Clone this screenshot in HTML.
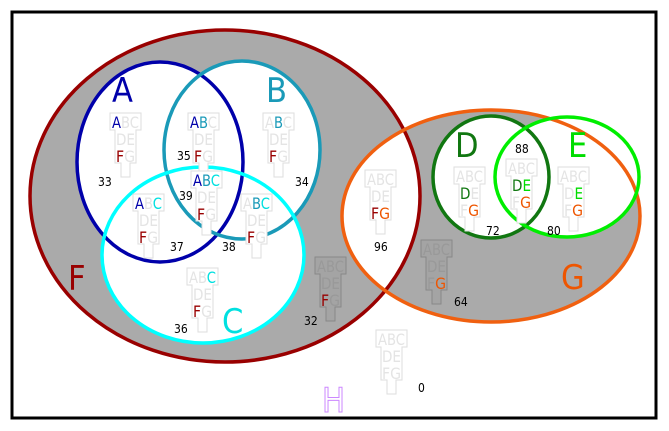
<!DOCTYPE html>
<html><head><meta charset="utf-8"><style>
html,body{margin:0;padding:0;background:#fff}
svg{display:block}
text{font-family:"DejaVu Sans Condensed","Liberation Sans",sans-serif}
.g text{font-size:16px}
use{fill:#fff;stroke:#ddd;stroke-width:1}
use.dk{fill:#a4a4a4;stroke:#888}
.n{font-size:12px;fill:#000}
.x{fill:#e4e4e4}
.a{fill:#0000aa}.b{fill:#1a9ab8}.c{fill:#00e0e0}.d{fill:#117711}.e{fill:#00dd00}.f{fill:#990000}.gg{fill:#ee5500}
</style></head><body>
<svg width="669" height="431" viewBox="0 0 669 431" xmlns="http://www.w3.org/2000/svg">
<defs>
<path id="o" d="M0,0H31V17H26V50H20V64H11V50H5V17H0Z"/>
<clipPath id="cf"><ellipse cx="225" cy="196" rx="195" ry="166"/></clipPath>
</defs>
<rect x="12" y="12" width="644" height="406" fill="#fff" stroke="#000" stroke-width="3"/>
<ellipse cx="225" cy="196" rx="195" ry="166" fill="#aaa"/>
<ellipse cx="491" cy="216" rx="149" ry="106" fill="#aaa"/>
<ellipse cx="491" cy="216" rx="149" ry="106" fill="#fff" clip-path="url(#cf)"/>
<ellipse cx="160" cy="162" rx="83" ry="100" fill="#fff"/>
<ellipse cx="242" cy="150" rx="78" ry="89" fill="#fff"/>
<ellipse cx="203" cy="255" rx="101" ry="88" fill="#fff"/>
<ellipse cx="491" cy="177" rx="58" ry="61" fill="#fff"/>
<ellipse cx="567" cy="177" rx="72" ry="60" fill="#fff"/>
<ellipse cx="225" cy="196" rx="195" ry="166" fill="none" stroke="#990000" stroke-width="3.5"/>
<ellipse cx="491" cy="216" rx="149" ry="106" fill="none" stroke="#f06010" stroke-width="3.5"/>
<ellipse cx="160" cy="162" rx="83" ry="100" fill="none" stroke="#0000aa" stroke-width="3.5"/>
<ellipse cx="242" cy="150" rx="78" ry="89" fill="none" stroke="#1a9ab8" stroke-width="3.5"/>
<ellipse cx="203" cy="255" rx="101" ry="88" fill="none" stroke="#00ffff" stroke-width="3.5"/>
<ellipse cx="491" cy="177" rx="58" ry="61" fill="none" stroke="#117711" stroke-width="3.5"/>
<ellipse cx="567" cy="177" rx="72" ry="60" fill="none" stroke="#00ee00" stroke-width="3.5"/>

<g style="font-size:34px">
<text x="112" y="102" class="a">A</text>
<text x="266" y="102" class="b">B</text>
<text x="222" y="333" class="c">C</text>
<text x="68" y="290" class="f">F</text>
<text x="561" y="289" class="gg">G</text>
<text x="455" y="157" class="d">D</text>
<text x="568" y="157" class="e">E</text>
<text x="322" y="412" fill="#fff" stroke="#cc88ff" stroke-width="1">H</text>
</g>

<g class="g">
<g transform="translate(110,113)"><use href="#o"/><text x="2" y="15" textLength="27" lengthAdjust="spacingAndGlyphs"><tspan class="a">A</tspan><tspan class="x">BC</tspan></text><text x="6" y="32" class="x" textLength="19" lengthAdjust="spacingAndGlyphs">DE</text><text x="6" y="49" textLength="19" lengthAdjust="spacingAndGlyphs"><tspan class="f">F</tspan><tspan class="x">G</tspan></text></g>
<g transform="translate(188,113)"><use href="#o"/><text x="2" y="15" textLength="27" lengthAdjust="spacingAndGlyphs"><tspan class="a">A</tspan><tspan class="b">B</tspan><tspan class="x">C</tspan></text><text x="6" y="32" class="x" textLength="19" lengthAdjust="spacingAndGlyphs">DE</text><text x="6" y="49" textLength="19" lengthAdjust="spacingAndGlyphs"><tspan class="f">F</tspan><tspan class="x">G</tspan></text></g>
<g transform="translate(263,113)"><use href="#o"/><text x="2" y="15" textLength="27" lengthAdjust="spacingAndGlyphs"><tspan class="x">A</tspan><tspan class="b">B</tspan><tspan class="x">C</tspan></text><text x="6" y="32" class="x" textLength="19" lengthAdjust="spacingAndGlyphs">DE</text><text x="6" y="49" textLength="19" lengthAdjust="spacingAndGlyphs"><tspan class="f">F</tspan><tspan class="x">G</tspan></text></g>
<g transform="translate(191,171)"><use href="#o"/><text x="2" y="15" textLength="27" lengthAdjust="spacingAndGlyphs"><tspan class="a">A</tspan><tspan class="b">B</tspan><tspan class="c">C</tspan></text><text x="6" y="32" class="x" textLength="19" lengthAdjust="spacingAndGlyphs">DE</text><text x="6" y="49" textLength="19" lengthAdjust="spacingAndGlyphs"><tspan class="f">F</tspan><tspan class="x">G</tspan></text></g>
<g transform="translate(133,194)"><use href="#o"/><text x="2" y="15" textLength="27" lengthAdjust="spacingAndGlyphs"><tspan class="a">A</tspan><tspan class="x">B</tspan><tspan class="c">C</tspan></text><text x="6" y="32" class="x" textLength="19" lengthAdjust="spacingAndGlyphs">DE</text><text x="6" y="49" textLength="19" lengthAdjust="spacingAndGlyphs"><tspan class="f">F</tspan><tspan class="x">G</tspan></text></g>
<g transform="translate(241,194)"><use href="#o"/><text x="2" y="15" textLength="27" lengthAdjust="spacingAndGlyphs"><tspan class="x">A</tspan><tspan class="b">B</tspan><tspan class="c">C</tspan></text><text x="6" y="32" class="x" textLength="19" lengthAdjust="spacingAndGlyphs">DE</text><text x="6" y="49" textLength="19" lengthAdjust="spacingAndGlyphs"><tspan class="f">F</tspan><tspan class="x">G</tspan></text></g>
<g transform="translate(187,268)"><use href="#o"/><text x="2" y="15" textLength="27" lengthAdjust="spacingAndGlyphs"><tspan class="x">AB</tspan><tspan class="c">C</tspan></text><text x="6" y="32" class="x" textLength="19" lengthAdjust="spacingAndGlyphs">DE</text><text x="6" y="49" textLength="19" lengthAdjust="spacingAndGlyphs"><tspan class="f">F</tspan><tspan class="x">G</tspan></text></g>
<g transform="translate(315,257)"><use href="#o" class="dk"/><text x="2" y="15" fill="#999" textLength="27" lengthAdjust="spacingAndGlyphs">ABC</text><text x="6" y="32" fill="#999" textLength="19" lengthAdjust="spacingAndGlyphs">DE</text><text x="6" y="49" textLength="19" lengthAdjust="spacingAndGlyphs"><tspan class="f">F</tspan><tspan fill="#999">G</tspan></text></g>
<g transform="translate(365,170)"><use href="#o"/><text x="2" y="15" class="x" textLength="27" lengthAdjust="spacingAndGlyphs">ABC</text><text x="6" y="32" class="x" textLength="19" lengthAdjust="spacingAndGlyphs">DE</text><text x="6" y="49" textLength="19" lengthAdjust="spacingAndGlyphs"><tspan class="f">F</tspan><tspan class="gg">G</tspan></text></g>
<g transform="translate(421,240)"><use href="#o" class="dk"/><text x="2" y="15" fill="#999" textLength="27" lengthAdjust="spacingAndGlyphs">ABC</text><text x="6" y="32" fill="#999" textLength="19" lengthAdjust="spacingAndGlyphs">DE</text><text x="6" y="49" textLength="19" lengthAdjust="spacingAndGlyphs"><tspan fill="#999">F</tspan><tspan class="gg">G</tspan></text></g>
<g transform="translate(454,167)"><use href="#o"/><text x="2" y="15" class="x" textLength="27" lengthAdjust="spacingAndGlyphs">ABC</text><text x="6" y="32" textLength="19" lengthAdjust="spacingAndGlyphs"><tspan class="d">D</tspan><tspan class="x">E</tspan></text><text x="6" y="49" textLength="19" lengthAdjust="spacingAndGlyphs"><tspan class="x">F</tspan><tspan class="gg">G</tspan></text></g>
<g transform="translate(506,159)"><use href="#o"/><text x="2" y="15" class="x" textLength="27" lengthAdjust="spacingAndGlyphs">ABC</text><text x="6" y="32" textLength="19" lengthAdjust="spacingAndGlyphs"><tspan class="d">D</tspan><tspan class="e">E</tspan></text><text x="6" y="49" textLength="19" lengthAdjust="spacingAndGlyphs"><tspan class="x">F</tspan><tspan class="gg">G</tspan></text></g>
<g transform="translate(558,167)"><use href="#o"/><text x="2" y="15" class="x" textLength="27" lengthAdjust="spacingAndGlyphs">ABC</text><text x="6" y="32" textLength="19" lengthAdjust="spacingAndGlyphs"><tspan class="x">D</tspan><tspan class="e">E</tspan></text><text x="6" y="49" textLength="19" lengthAdjust="spacingAndGlyphs"><tspan class="x">F</tspan><tspan class="gg">G</tspan></text></g>
<g transform="translate(376,330)"><use href="#o"/><text x="2" y="15" class="x" textLength="27" lengthAdjust="spacingAndGlyphs">ABC</text><text x="6" y="32" class="x" textLength="19" lengthAdjust="spacingAndGlyphs">DE</text><text x="6" y="49" class="x" textLength="19" lengthAdjust="spacingAndGlyphs">FG</text></g>
</g>

<g class="n">
<text x="98" y="186">33</text>
<text x="177" y="160">35</text>
<text x="295" y="186">34</text>
<text x="179" y="200">39</text>
<text x="170" y="251">37</text>
<text x="222" y="251">38</text>
<text x="174" y="333">36</text>
<text x="304" y="325">32</text>
<text x="374" y="251">96</text>
<text x="454" y="306">64</text>
<text x="486" y="235">72</text>
<text x="515" y="153">88</text>
<text x="547" y="235">80</text>
<text x="418" y="392">0</text>
</g>
</svg>
</body></html>
